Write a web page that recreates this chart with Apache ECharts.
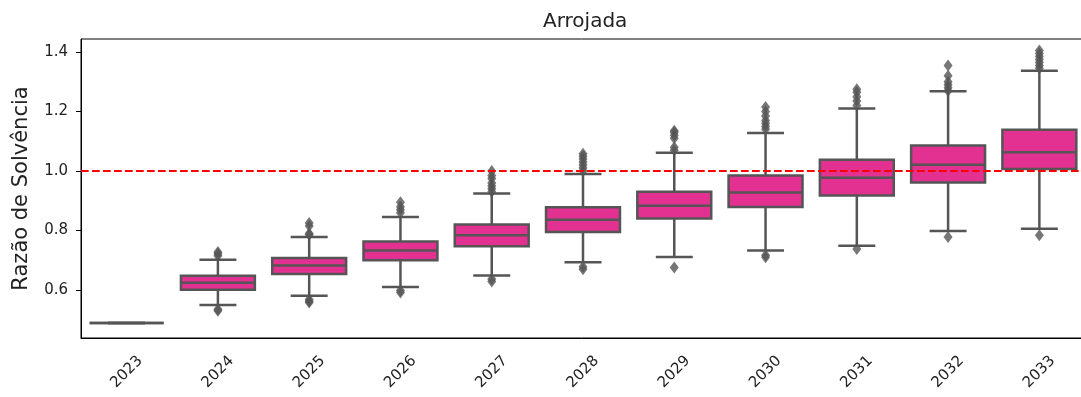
<!DOCTYPE html>
<html>
<head>
<meta charset="utf-8">
<script src="https://cdn.jsdelivr.net/npm/echarts@6/dist/echarts.min.js"></script>
<style>
  html, body { margin: 0; padding: 0; background: #fff; }
  #chart { width: 1081px; height: 397px; }
</style>
</head>
<body>
<div id="chart"></div>
<script>
// Solvency ratio distribution per projection year ("Arrojada" scenario)
const years = ['2023', '2024', '2025', '2026', '2027', '2028', '2029', '2030', '2031', '2032', '2033'];
const whiskerLow  = [0.489, 0.550, 0.581, 0.610, 0.649, 0.693, 0.711, 0.733, 0.749, 0.798, 0.806];
const quartile1   = [0.489, 0.601, 0.654, 0.700, 0.747, 0.795, 0.840, 0.879, 0.918, 0.961, 1.007];
const medians     = [0.489, 0.624, 0.682, 0.733, 0.784, 0.836, 0.883, 0.928, 0.977, 1.021, 1.063];
const quartile3   = [0.489, 0.648, 0.708, 0.763, 0.820, 0.878, 0.930, 0.985, 1.038, 1.086, 1.139];
const whiskerHigh = [0.489, 0.702, 0.778, 0.845, 0.924, 0.990, 1.061, 1.128, 1.210, 1.268, 1.337];
const fliers = [
  [],
  [0.715, 0.722, 0.728, 0.535, 0.530],
  [0.786, 0.790, 0.815, 0.825, 0.568, 0.562, 0.558],
  [0.860, 0.870, 0.880, 0.895, 0.598, 0.592],
  [0.930, 0.940, 0.950, 0.960, 0.975, 0.985, 1.000, 0.637, 0.629],
  [1.000, 1.010, 1.020, 1.030, 1.040, 1.050, 1.058, 0.678, 0.670],
  [1.070, 1.080, 1.110, 1.120, 1.130, 1.135, 0.676],
  [1.140, 1.150, 1.160, 1.170, 1.185, 1.200, 1.215, 0.717, 0.710],
  [1.220, 1.235, 1.250, 1.265, 1.275, 0.738],
  [1.270, 1.280, 1.290, 1.300, 1.320, 1.355, 0.778],
  [1.345, 1.355, 1.365, 1.375, 1.385, 1.395, 1.405, 0.784]
];
const yTicks = [0.6, 0.8, 1.0, 1.2, 1.4];
const threshold = 1.0;

const boxRows = years.map((y, i) => [i, whiskerLow[i], quartile1[i], medians[i], quartile3[i], whiskerHigh[i]]);
const flierPoints = [];
fliers.forEach((vals, i) => vals.forEach(v => flierPoints.push([i, v])));

const GRAY = '#555555';
const FILL = '#e23190';
const TEXT = '#222222';

function renderBox(params, api) {
  const i = api.value(0);
  const lo = api.coord([i, api.value(1)]);
  const q1 = api.coord([i, api.value(2)]);
  const md = api.coord([i, api.value(3)]);
  const q3 = api.coord([i, api.value(4)]);
  const hi = api.coord([i, api.value(5)]);
  const band = api.size([1, 0])[0];
  const half = band * 0.405;
  const cap = half / 2;
  const x = md[0];
  const ls = { stroke: GRAY, lineWidth: 2.5 };
  return {
    type: 'group',
    children: [
      { type: 'line', shape: { x1: x, y1: q3[1], x2: x, y2: hi[1] }, style: ls },
      { type: 'line', shape: { x1: x, y1: q1[1], x2: x, y2: lo[1] }, style: ls },
      { type: 'line', shape: { x1: x - cap, y1: hi[1], x2: x + cap, y2: hi[1] }, style: ls },
      { type: 'line', shape: { x1: x - cap, y1: lo[1], x2: x + cap, y2: lo[1] }, style: ls },
      { type: 'rect', shape: { x: x - half, y: q3[1], width: half * 2, height: q1[1] - q3[1] },
        style: { fill: FILL, stroke: GRAY, lineWidth: 2.5 } },
      { type: 'line', shape: { x1: x - half, y1: md[1], x2: x + half, y2: md[1] }, style: ls }
    ]
  };
}

const chart = echarts.init(document.getElementById('chart'), null, { renderer: 'canvas' });
chart.setOption({
  animation: false,
  backgroundColor: '#fff',
  title: {
    text: 'Arrojada',
    left: 538,
    top: 7,
    textStyle: { fontFamily: 'DejaVu Sans', fontSize: 20, fontWeight: 'normal', color: TEXT }
  },
  grid: {
    left: 81, width: 1004, top: 39, bottom: 59,
    outerBoundsMode: 'none',
    containLabel: false,
    show: true, borderColor: '#000', borderWidth: 1
  },
  xAxis: {
    type: 'category',
    data: years,
    boundaryGap: true,
    axisLine: { lineStyle: { color: '#000', width: 1 } },
    axisTick: { alignWithLabel: true, length: 5, lineStyle: { color: '#000' } },
    axisLabel: {
      interval: 0, rotate: 45, margin: 34, align: 'center', verticalAlign: 'middle',
      fontFamily: 'DejaVu Sans', fontSize: 15, color: TEXT
    },
    splitLine: { show: false }
  },
  yAxis: {
    type: 'value',
    min: 0.4387,
    max: 1.4437,
    name: 'Razão de Solvência',
    nameLocation: 'middle',
    nameRotate: 90,
    nameGap: 49,
    nameTextStyle: { fontFamily: 'DejaVu Sans', fontSize: 21, color: TEXT },
    axisLine: { show: true, lineStyle: { color: '#000', width: 1 } },
    axisTick: { show: true, length: 5, customValues: yTicks, lineStyle: { color: '#000' } },
    axisLabel: {
      customValues: yTicks, margin: 13,
      formatter: v => v.toFixed(1),
      fontFamily: 'DejaVu Sans', fontSize: 15, color: TEXT
    },
    splitLine: { show: false }
  },
  series: [
    {
      type: 'custom',
      renderItem: renderBox,
      data: boxRows,
      encode: { x: 0, y: [1, 2, 3, 4, 5] },
      z: 2,
      markLine: {
        silent: true,
        symbol: 'none',
        label: { show: false },
        lineStyle: { color: '#ff0000', width: 2, type: [7.7, 3.3] },
        data: [{ yAxis: threshold }],
        z: 10
      }
    },
    {
      type: 'scatter',
      data: flierPoints,
      symbol: 'diamond',
      symbolSize: [9, 12],
      itemStyle: { color: GRAY },
      z: 3
    }
  ]
});
</script>
</body>
</html>
